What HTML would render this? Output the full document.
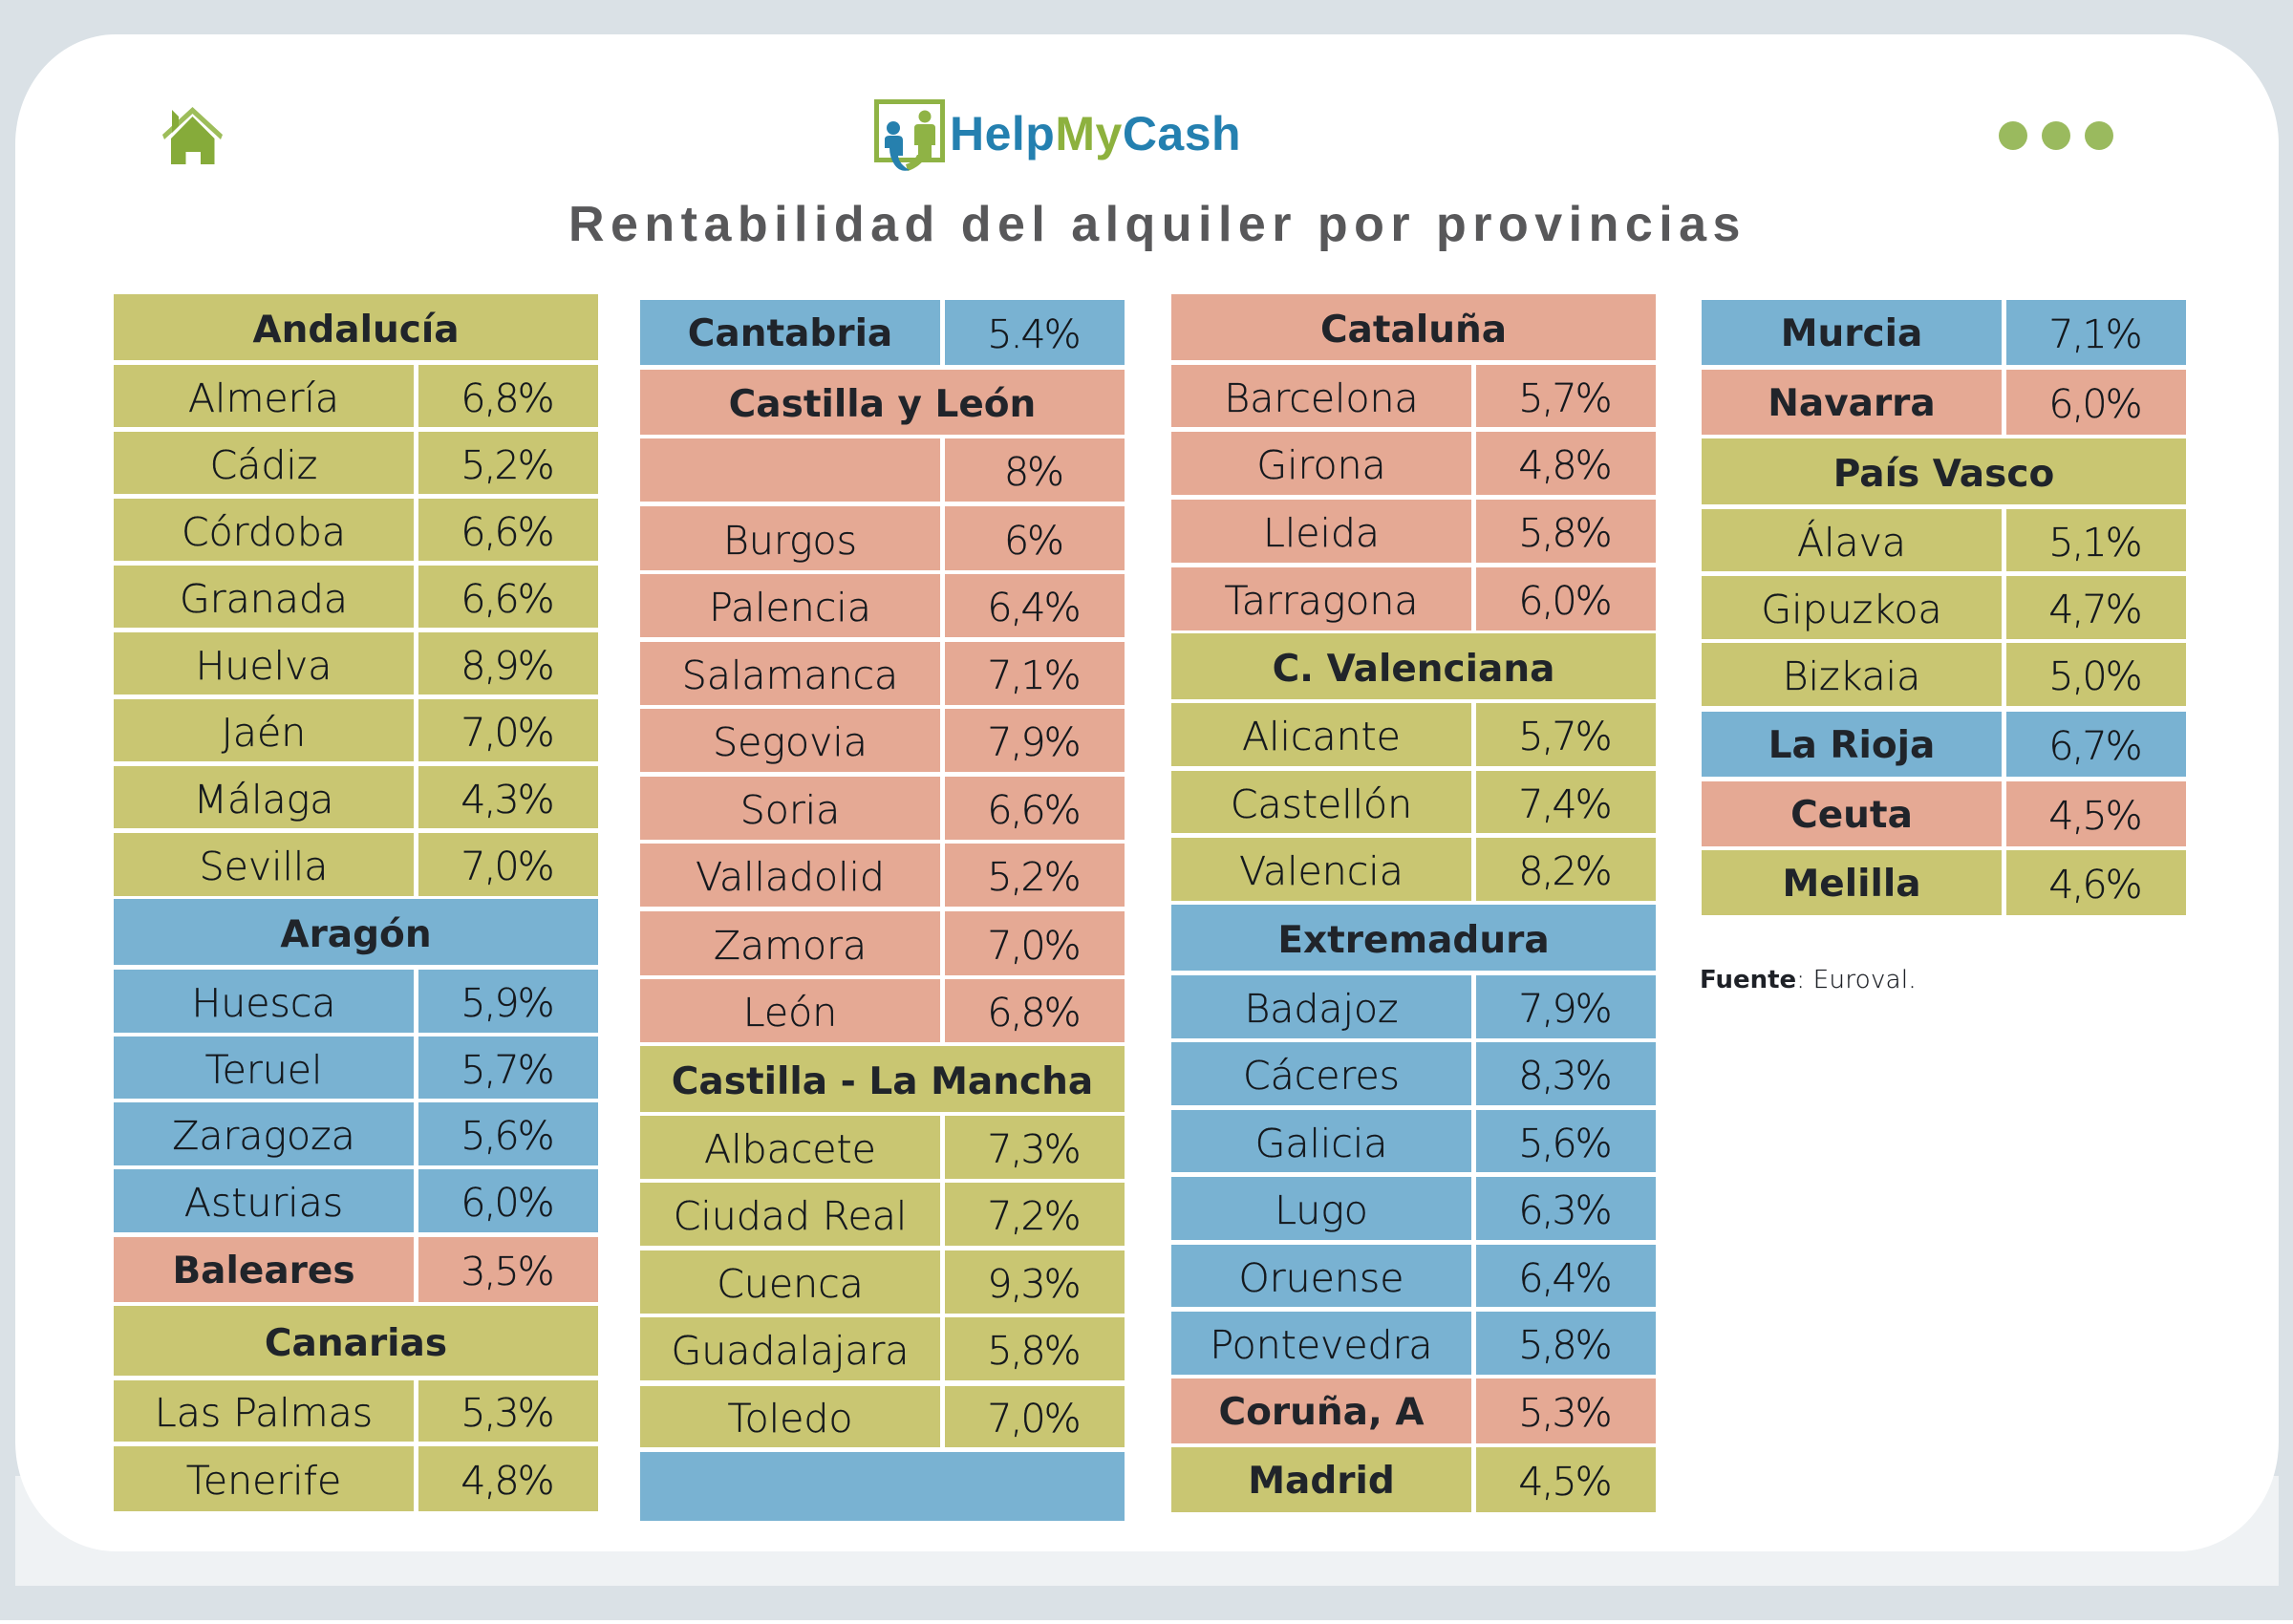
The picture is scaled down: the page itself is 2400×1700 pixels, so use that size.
<!DOCTYPE html>
<html lang="es">
<head>
<meta charset="utf-8">
<title>Rentabilidad del alquiler por provincias</title>
<style>
html,body{margin:0;padding:0;width:2400px;height:1700px;overflow:hidden;background:#fff;}
#page{position:absolute;left:0;top:0;width:2400px;height:1696px;background:#dae1e6;overflow:hidden;}
#band{position:absolute;left:16px;top:1545px;width:2369px;height:115px;background:#eff2f4;}
#card{position:absolute;left:16px;top:36px;width:2369px;height:1588px;background:#fff;border-radius:105px / 115px;}
.col{position:absolute;top:0;width:507px;height:1700px;}
.r{position:absolute;left:0;width:507px;}
.n,.v,.h{position:absolute;top:0;height:100%;display:flex;align-items:center;justify-content:center;box-sizing:border-box;white-space:nowrap;color:#14181d;font-family:"DejaVu Sans","Liberation Sans",sans-serif;}
.n{left:0;width:314px;font-size:41px;font-weight:200;padding-top:4px;-webkit-text-stroke:.35px #14181d;}
.v{left:319px;width:188px;font-size:41px;font-weight:200;letter-spacing:-2px;padding-top:4px;padding-right:3px;-webkit-text-stroke:.35px #14181d;}
.h{left:0;width:507px;font-size:39px;font-weight:700;padding-top:5px;color:#20242a;}
.n.b{font-size:39px;font-weight:700;padding-top:3px;color:#20242a;-webkit-text-stroke:0;}
.o>div{background:#c9c672;}
.l>div{background:#79b2d2;}
.s>div{background:#e5a994;}
#title{position:absolute;left:595px;top:202px;white-space:nowrap;font:700 52px/66px "Liberation Sans",sans-serif;letter-spacing:6.48px;color:#58585a;}
#logotext{position:absolute;left:994px;top:111px;white-space:nowrap;font:700 50px/58px "Liberation Sans",sans-serif;letter-spacing:.5px;color:#2480b0;}
#logotext span{color:#8db13e;}
#source{position:absolute;left:1779px;top:1009px;white-space:nowrap;font:200 26px/34px "DejaVu Sans",sans-serif;letter-spacing:.3px;color:#1e2127;-webkit-text-stroke:.2px #1e2127;}
#source b{font-weight:700;letter-spacing:0;-webkit-text-stroke:0;}
svg{position:absolute;left:0;top:0;}
</style>
</head>
<body>
<div id="page">
<div id="band"></div>
<div id="card"></div>

<svg width="2400" height="1700" viewBox="0 0 2400 1700">
  <g>
    <path d="M179 172V145L201.5 122L224.5 145V172H210V159H194.5V172Z" fill="#86ab3a"/>
    <path d="M170 141L201.5 112L233 141L231 146L201.5 119L172 146Z" fill="#9dbd5a"/>
    <path d="M180 115L187 122V132L180 139Z" fill="#86ab3a"/>
  </g>
  <g>
    <rect x="917.5" y="106.5" width="69" height="61" fill="none" stroke="#8fb345" stroke-width="5"/>
    <circle cx="968" cy="122" r="6.5" fill="#8fb345"/>
    <path d="M957 134Q957 130 961 130H975Q979 130 979 134V152H975V168H961V152H957Z" fill="#8fb345"/>
    <path d="M950 179Q963 175 971 162L960 162Q956 170 948 172Z" fill="#8fb345"/>
    <circle cx="935" cy="134" r="7" fill="#2680ae"/>
    <path d="M926 146Q926 142 931 142H940Q945 142 945 147V163H940Q941 172 952 178Q942 181 936 172Q931 164 931 155H926Z" fill="#2680ae"/>
  </g>
  <g>
    <ellipse cx="2107" cy="142" rx="15" ry="15" fill="#9aba5e"/>
    <ellipse cx="2152" cy="142" rx="15" ry="15" fill="#9aba5e"/>
    <ellipse cx="2197" cy="142" rx="15" ry="15" fill="#9aba5e"/>
  </g>
</svg>

<div id="logotext">Help<span>My</span>Cash</div>
<div id="title">Rentabilidad del alquiler por provincias</div>

<div class="col" style="left:119px">
<div class="r o" style="top:308px;height:69px"><div class="h">Andalucía</div></div>
<div class="r o" style="top:382px;height:65px"><div class="n">Almería</div><div class="v">6,8%</div></div>
<div class="r o" style="top:452px;height:65px"><div class="n">Cádiz</div><div class="v">5,2%</div></div>
<div class="r o" style="top:522px;height:65px"><div class="n">Córdoba</div><div class="v">6,6%</div></div>
<div class="r o" style="top:592px;height:65px"><div class="n">Granada</div><div class="v">6,6%</div></div>
<div class="r o" style="top:662px;height:65px"><div class="n">Huelva</div><div class="v">8,9%</div></div>
<div class="r o" style="top:732px;height:65px"><div class="n">Jaén</div><div class="v">7,0%</div></div>
<div class="r o" style="top:802px;height:65px"><div class="n">Málaga</div><div class="v">4,3%</div></div>
<div class="r o" style="top:872px;height:66px"><div class="n">Sevilla</div><div class="v">7,0%</div></div>
<div class="r l" style="top:941px;height:69px"><div class="h">Aragón</div></div>
<div class="r l" style="top:1015px;height:66px"><div class="n">Huesca</div><div class="v">5,9%</div></div>
<div class="r l" style="top:1085px;height:65px"><div class="n">Teruel</div><div class="v">5,7%</div></div>
<div class="r l" style="top:1154px;height:66px"><div class="n">Zaragoza</div><div class="v">5,6%</div></div>
<div class="r l" style="top:1224px;height:66px"><div class="n">Asturias</div><div class="v">6,0%</div></div>
<div class="r s" style="top:1295px;height:68px"><div class="n b">Baleares</div><div class="v">3,5%</div></div>
<div class="r o" style="top:1367px;height:73px"><div class="h">Canarias</div></div>
<div class="r o" style="top:1445px;height:64px"><div class="n">Las Palmas</div><div class="v">5,3%</div></div>
<div class="r o" style="top:1514px;height:68px"><div class="n">Tenerife</div><div class="v">4,8%</div></div>
</div>

<div class="col" style="left:670px">
<div class="r l" style="top:314px;height:68px"><div class="n b">Cantabria</div><div class="v">5.4%</div></div>
<div class="r s" style="top:387px;height:68px"><div class="h">Castilla y León</div></div>
<div class="r s" style="top:459px;height:66px"><div class="n"></div><div class="v">8%</div></div>
<div class="r s" style="top:530px;height:67px"><div class="n">Burgos</div><div class="v">6%</div></div>
<div class="r s" style="top:601px;height:66px"><div class="n">Palencia</div><div class="v">6,4%</div></div>
<div class="r s" style="top:672px;height:66px"><div class="n">Salamanca</div><div class="v">7,1%</div></div>
<div class="r s" style="top:742px;height:66px"><div class="n">Segovia</div><div class="v">7,9%</div></div>
<div class="r s" style="top:813px;height:66px"><div class="n">Soria</div><div class="v">6,6%</div></div>
<div class="r s" style="top:883px;height:66px"><div class="n">Valladolid</div><div class="v">5,2%</div></div>
<div class="r s" style="top:954px;height:67px"><div class="n">Zamora</div><div class="v">7,0%</div></div>
<div class="r s" style="top:1025px;height:66px"><div class="n">León</div><div class="v">6,8%</div></div>
<div class="r o" style="top:1095px;height:69px"><div class="h">Castilla - La Mancha</div></div>
<div class="r o" style="top:1168px;height:66px"><div class="n">Albacete</div><div class="v">7,3%</div></div>
<div class="r o" style="top:1238px;height:66px"><div class="n">Ciudad Real</div><div class="v">7,2%</div></div>
<div class="r o" style="top:1309px;height:66px"><div class="n">Cuenca</div><div class="v">9,3%</div></div>
<div class="r o" style="top:1379px;height:66px"><div class="n">Guadalajara</div><div class="v">5,8%</div></div>
<div class="r o" style="top:1451px;height:64px"><div class="n">Toledo</div><div class="v">7,0%</div></div>
<div class="r l" style="top:1520px;height:72px"><div class="h"></div></div>
</div>

<div class="col" style="left:1226px">
<div class="r s" style="top:308px;height:69px"><div class="h">Cataluña</div></div>
<div class="r s" style="top:382px;height:65px"><div class="n">Barcelona</div><div class="v">5,7%</div></div>
<div class="r s" style="top:452px;height:66px"><div class="n">Girona</div><div class="v">4,8%</div></div>
<div class="r s" style="top:523px;height:66px"><div class="n">Lleida</div><div class="v">5,8%</div></div>
<div class="r s" style="top:594px;height:66px"><div class="n">Tarragona</div><div class="v">6,0%</div></div>
<div class="r o" style="top:663px;height:69px"><div class="h">C. Valenciana</div></div>
<div class="r o" style="top:736px;height:66px"><div class="n">Alicante</div><div class="v">5,7%</div></div>
<div class="r o" style="top:807px;height:65px"><div class="n">Castellón</div><div class="v">7,4%</div></div>
<div class="r o" style="top:877px;height:66px"><div class="n">Valencia</div><div class="v">8,2%</div></div>
<div class="r l" style="top:947px;height:69px"><div class="h">Extremadura</div></div>
<div class="r l" style="top:1021px;height:66px"><div class="n">Badajoz</div><div class="v">7,9%</div></div>
<div class="r l" style="top:1091px;height:66px"><div class="n">Cáceres</div><div class="v">8,3%</div></div>
<div class="r l" style="top:1162px;height:65px"><div class="n">Galicia</div><div class="v">5,6%</div></div>
<div class="r l" style="top:1232px;height:66px"><div class="n">Lugo</div><div class="v">6,3%</div></div>
<div class="r l" style="top:1303px;height:65px"><div class="n">Oruense</div><div class="v">6,4%</div></div>
<div class="r l" style="top:1373px;height:66px"><div class="n">Pontevedra</div><div class="v">5,8%</div></div>
<div class="r s" style="top:1443px;height:68px"><div class="n b">Coruña, A</div><div class="v">5,3%</div></div>
<div class="r o" style="top:1515px;height:68px"><div class="n b">Madrid</div><div class="v">4,5%</div></div>
</div>

<div class="col" style="left:1781px">
<div class="r l" style="top:314px;height:68px"><div class="n b">Murcia</div><div class="v">7,1%</div></div>
<div class="r s" style="top:387px;height:68px"><div class="n b">Navarra</div><div class="v">6,0%</div></div>
<div class="r o" style="top:459px;height:69px"><div class="h">País Vasco</div></div>
<div class="r o" style="top:533px;height:65px"><div class="n">Álava</div><div class="v">5,1%</div></div>
<div class="r o" style="top:603px;height:66px"><div class="n">Gipuzkoa</div><div class="v">4,7%</div></div>
<div class="r o" style="top:673px;height:66px"><div class="n">Bizkaia</div><div class="v">5,0%</div></div>
<div class="r l" style="top:745px;height:68px"><div class="n b">La Rioja</div><div class="v">6,7%</div></div>
<div class="r s" style="top:818px;height:68px"><div class="n b">Ceuta</div><div class="v">4,5%</div></div>
<div class="r o" style="top:890px;height:68px"><div class="n b">Melilla</div><div class="v">4,6%</div></div>
</div>

<div id="source"><b>Fuente</b>: Euroval.</div>
</div>
</body>
</html>
